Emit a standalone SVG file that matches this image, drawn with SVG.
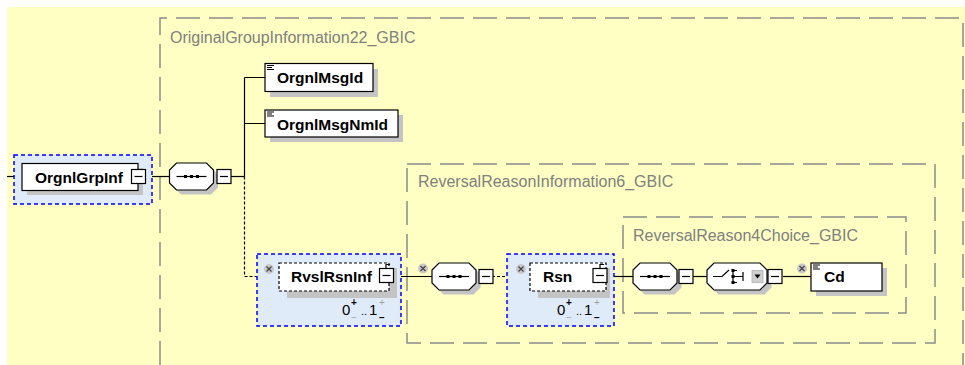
<svg xmlns="http://www.w3.org/2000/svg" width="965" height="365" viewBox="0 0 965 365">
<style>
.frame{fill:none;stroke:#8c8c8c;stroke-width:1.5;stroke-dasharray:24 9}
.ftitle{font-family:"Liberation Sans",Arial,sans-serif;font-size:16px;fill:#808080}
.sel{fill:#e0ebfa;stroke:#0000ff;stroke-width:1.5;stroke-dasharray:4 3}
.box{fill:#ffffff;stroke:#000;stroke-width:1.2}
.dbox{fill:#ffffff;stroke:#000;stroke-width:1.2;stroke-dasharray:3 2}
.shadow{fill:#c4c4c4}
.name{font-family:"Liberation Sans",Arial,sans-serif;font-size:15.5px;font-weight:bold;fill:#000}
.mult{font-family:"Liberation Sans",Arial,sans-serif;font-size:15px;fill:#000}
.dots{font-family:"Liberation Sans",Arial,sans-serif;font-size:11px;fill:#000}
.multg{font-family:"Liberation Sans",Arial,sans-serif;font-size:10px;fill:#a0a0a0}
.multb{font-family:"Liberation Sans",Arial,sans-serif;font-size:10px;font-weight:bold;fill:#000}
.mbox{fill:#fff;stroke:#000;stroke-width:1.2}
.ln{fill:none;stroke:#000;stroke-width:1.2}
.dln{fill:none;stroke:#000;stroke-width:1.2;stroke-dasharray:3 2}
.oct{fill:#fff;stroke:#000;stroke-width:1.2}
.octs{fill:#c4c4c4}
.nil{fill:#c8c8c8}
.nilx{stroke:#444;stroke-width:1.2}
</style>
<defs>
<g id="seqsym">
<line x1="7" y1="13.5" x2="37" y2="13.5" stroke="#000" stroke-width="1.2"/>
<rect x="14.5" y="12" width="3" height="3" fill="#000"/>
<rect x="20.5" y="12" width="3" height="3" fill="#000"/>
<rect x="26.5" y="12" width="3" height="3" fill="#000"/>
</g>
<path id="octpath" d="M7 0 H37 L44 7 V20 L37 27 H7 L0 20 V7 Z"/>
<path id="octpathw" d="M7 0 H53 L60 7 V20 L53 27 H7 L0 20 V7 Z"/>
<g id="minus">
<rect x="0" y="0" width="14" height="14" class="mbox"/>
<line x1="3" y1="7" x2="11" y2="7" stroke="#000" stroke-width="1.2"/>
</g>
<g id="nilicon">
<circle cx="0" cy="0" r="5" class="nil"/>
<path d="M-2.5 -2.5 L2.5 2.5 M2.5 -2.5 L-2.5 2.5" class="nilx"/>
</g>
<g id="txticon">
<path d="M0 0.5 H7 M0 2.5 H5 M0 4.5 H7" stroke="#000" stroke-width="1"/>
</g>
</defs>

<rect x="7" y="7" width="958" height="358" fill="#ffffc4"/>

<g id="frames">
<path class="frame" d="M160 365 V18 H963 V365"/>
<text class="ftitle" x="170" y="43">OriginalGroupInformation22_GBIC</text>
<rect class="frame" x="407" y="164" width="528" height="179"/>
<text class="ftitle" x="418" y="187">ReversalReasonInformation6_GBIC</text>
<rect class="frame" x="623" y="217" width="283" height="96"/>
<text class="ftitle" x="633" y="241">ReversalReason4Choice_GBIC</text>
</g>

<g id="connectors">
<path class="ln" d="M7 176.5 H22"/>
<path class="ln" d="M146 176.5 H170"/>
<path class="ln" d="M231 176.5 H244.5"/>
<path class="ln" d="M244.5 77.5 V176.5 M244.5 77.5 H265 M244.5 123.5 H265"/>
<path class="dln" d="M244.5 176.5 V276.5 H279"/>
<path class="ln" d="M393 276.5 H432"/>
<path class="dln" d="M492 276.5 H530"/>
<path class="ln" d="M607 276.5 H633"/>
<path class="ln" d="M693 276.5 H707"/>
<path class="ln" d="M783 276.5 H811"/>
</g>

<g id="OrgnlGrpInf">
<rect class="sel" x="14" y="155" width="138" height="49"/>
<rect class="shadow" x="27" y="168" width="116" height="27"/>
<rect class="box" x="22" y="163.5" width="116" height="27"/>
<text class="name" x="35" y="182.5">OrgnlGrpInf</text>
<use href="#minus" x="131.5" y="169.5"/>
</g>

<g id="seq1">
<use href="#octpath" x="174" y="167.5" class="octs"/>
<use href="#octpath" x="169.5" y="163" class="oct"/>
<use href="#seqsym" x="169.5" y="163"/>
<use href="#minus" x="217" y="169.5"/>
</g>

<g id="OrgnlMsgId">
<rect class="shadow" x="270" y="69" width="108" height="28"/>
<rect class="box" x="265" y="63.5" width="108" height="28"/>
<use href="#txticon" x="267" y="65"/>
<text class="name" x="277" y="83">OrgnlMsgId</text>
</g>

<g id="OrgnlMsgNmId">
<rect class="shadow" x="270" y="115" width="133" height="27"/>
<rect class="box" x="265" y="110" width="133" height="27"/>
<use href="#txticon" x="267" y="111.5"/>
<text class="name" x="277" y="130">OrgnlMsgNmId</text>
</g>

<g id="RvslRsnInf">
<rect class="sel" x="257" y="254" width="144" height="72"/>
<rect class="shadow" x="287" y="268" width="110" height="30"/>
<rect class="dbox" x="279" y="263" width="110" height="28"/>
<use href="#nilicon" x="269" y="269"/>
<text class="name" x="291" y="282">RvslRsnInf</text>
<path class="ln" d="M386 268 V264.5 H390"/>
<use href="#minus" x="379.5" y="268.5"/>
<text class="mult" x="342" y="315">0</text>
<text class="multb" x="351" y="306">+</text>
<text class="multg" x="351" y="321">−</text>
<text class="dots" x="361" y="315">..</text>
<text class="mult" x="369" y="315">1</text>
<text class="multg" x="379" y="306">+</text>
<text class="multb" x="379" y="321">−</text>
</g>

<g id="seq2">
<use href="#nilicon" x="423" y="268.5"/>
<use href="#octpath" x="436.5" y="267.5" class="octs"/>
<use href="#octpath" x="432" y="263" class="oct"/>
<use href="#seqsym" x="432" y="263"/>
<use href="#minus" x="479" y="269.5"/>
</g>

<g id="Rsn">
<rect class="sel" x="507" y="254" width="107" height="72"/>
<rect class="shadow" x="538" y="268" width="72" height="30"/>
<rect class="dbox" x="530" y="263" width="76" height="28"/>
<use href="#nilicon" x="521" y="269"/>
<text class="name" x="543" y="282">Rsn</text>
<path class="ln" d="M600 268 V264.5 H604"/>
<use href="#minus" x="593" y="268.5"/>
<text class="mult" x="557" y="315">0</text>
<text class="multb" x="566" y="306">+</text>
<text class="multg" x="566" y="321">−</text>
<text class="dots" x="576" y="315">..</text>
<text class="mult" x="584" y="315">1</text>
<text class="multg" x="594" y="306">+</text>
<text class="multb" x="594" y="321">−</text>
</g>

<g id="seq3">
<use href="#octpath" x="637.5" y="267.5" class="octs"/>
<use href="#octpath" x="633" y="263" class="oct"/>
<use href="#seqsym" x="633" y="263"/>
<use href="#minus" x="679" y="269.5"/>
</g>

<g id="choice">
<use href="#octpathw" x="711.5" y="267.5" class="octs"/>
<use href="#octpathw" x="707" y="263" class="oct"/>
<path class="ln" d="M713 276.5 H722 L729 270"/>
<path class="ln" d="M733 270 V283 M733 270.5 H737 M733 276.5 H743 M733 282.5 H737 M743 272 V281"/>
<rect x="731.5" y="269" width="3" height="3" fill="#000"/>
<rect x="731.5" y="275" width="3" height="3" fill="#000"/>
<rect x="731.5" y="281" width="3" height="3" fill="#000"/>
<rect x="752" y="270.5" width="11" height="12" fill="#d0d0d0" stroke="#b0b0b0" stroke-width="0.8"/>
<path d="M754.5 274.5 H760.5 L757.5 278.5 Z" fill="#000"/>
<use href="#minus" x="768" y="269.5"/>
</g>

<g id="Cd">
<use href="#nilicon" x="802" y="268.5"/>
<rect class="shadow" x="816" y="268" width="71" height="28"/>
<rect class="box" x="811" y="263" width="71" height="28"/>
<use href="#txticon" x="813" y="264.5"/>
<text class="name" x="824" y="282">Cd</text>
</g>
</svg>
